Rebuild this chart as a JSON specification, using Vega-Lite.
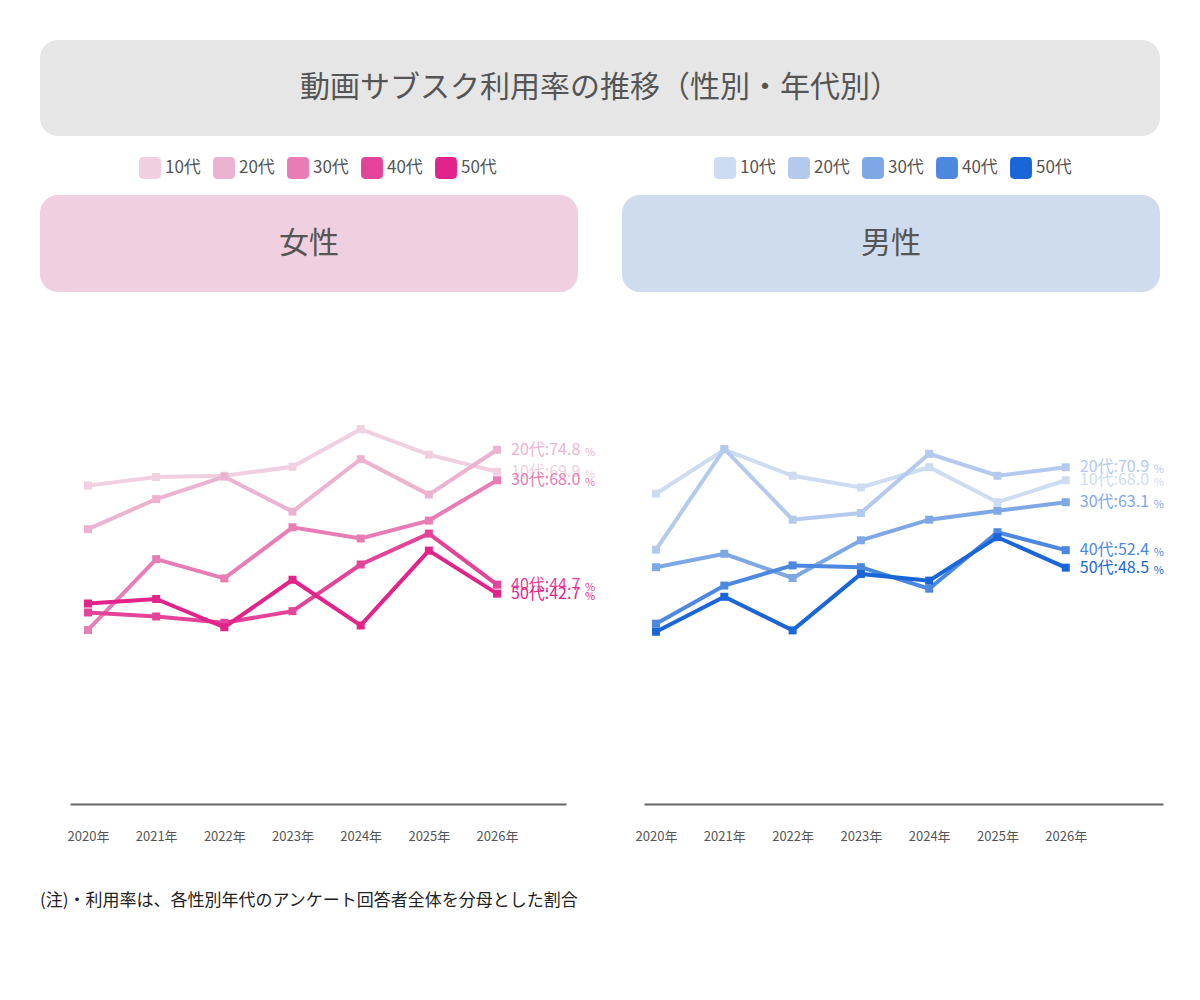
{
  "$schema": "https://vega.github.io/schema/vega-lite/v6.json",
  "padding": {"left": 40, "top": 40, "right": 0, "bottom": 20},
  "background": "white",
  "config": {
    "font": "Noto Sans CJK JP",
    "view": {"stroke": null},
    "concat": {"spacing": 0},
    "legend": {"layout": {"top": {"anchor": "middle"}}}
  },
  "datasets": {
    "f": [
      {"year": "2020年", "age": "10代", "value": 66.8}, {"year": "2021年", "age": "10代", "value": 68.7}, {"year": "2022年", "age": "10代", "value": 69.0}, {"year": "2023年", "age": "10代", "value": 71.0}, {"year": "2024年", "age": "10代", "value": 79.4}, {"year": "2025年", "age": "10代", "value": 73.7}, {"year": "2026年", "age": "10代", "value": 69.9},
      {"year": "2020年", "age": "20代", "value": 57.1}, {"year": "2021年", "age": "20代", "value": 63.8}, {"year": "2022年", "age": "20代", "value": 68.8}, {"year": "2023年", "age": "20代", "value": 61.0}, {"year": "2024年", "age": "20代", "value": 72.7}, {"year": "2025年", "age": "20代", "value": 64.8}, {"year": "2026年", "age": "20代", "value": 74.8},
      {"year": "2020年", "age": "30代", "value": 34.6}, {"year": "2021年", "age": "30代", "value": 50.4}, {"year": "2022年", "age": "30代", "value": 46.1}, {"year": "2023年", "age": "30代", "value": 57.5}, {"year": "2024年", "age": "30代", "value": 55.0}, {"year": "2025年", "age": "30代", "value": 59.0}, {"year": "2026年", "age": "30代", "value": 68.0},
      {"year": "2020年", "age": "40代", "value": 38.5}, {"year": "2021年", "age": "40代", "value": 37.6}, {"year": "2022年", "age": "40代", "value": 36.2}, {"year": "2023年", "age": "40代", "value": 38.8}, {"year": "2024年", "age": "40代", "value": 49.2}, {"year": "2025年", "age": "40代", "value": 56.1}, {"year": "2026年", "age": "40代", "value": 44.7},
      {"year": "2020年", "age": "50代", "value": 40.5}, {"year": "2021年", "age": "50代", "value": 41.5}, {"year": "2022年", "age": "50代", "value": 35.2}, {"year": "2023年", "age": "50代", "value": 45.8}, {"year": "2024年", "age": "50代", "value": 35.6}, {"year": "2025年", "age": "50代", "value": 52.3}, {"year": "2026年", "age": "50代", "value": 42.7}
    ],
    "m": [
      {"year": "2020年", "age": "10代", "value": 65.0}, {"year": "2021年", "age": "10代", "value": 74.8}, {"year": "2022年", "age": "10代", "value": 69.0}, {"year": "2023年", "age": "10代", "value": 66.4}, {"year": "2024年", "age": "10代", "value": 70.9}, {"year": "2025年", "age": "10代", "value": 63.1}, {"year": "2026年", "age": "10代", "value": 68.0},
      {"year": "2020年", "age": "20代", "value": 52.5}, {"year": "2021年", "age": "20代", "value": 75.0}, {"year": "2022年", "age": "20代", "value": 59.2}, {"year": "2023年", "age": "20代", "value": 60.7}, {"year": "2024年", "age": "20代", "value": 73.9}, {"year": "2025年", "age": "20代", "value": 69.0}, {"year": "2026年", "age": "20代", "value": 70.9},
      {"year": "2020年", "age": "30代", "value": 48.6}, {"year": "2021年", "age": "30代", "value": 51.6}, {"year": "2022年", "age": "30代", "value": 46.2}, {"year": "2023年", "age": "30代", "value": 54.6}, {"year": "2024年", "age": "30代", "value": 59.2}, {"year": "2025年", "age": "30代", "value": 61.2}, {"year": "2026年", "age": "30代", "value": 63.1},
      {"year": "2020年", "age": "40代", "value": 36.0}, {"year": "2021年", "age": "40代", "value": 44.5}, {"year": "2022年", "age": "40代", "value": 49.0}, {"year": "2023年", "age": "40代", "value": 48.6}, {"year": "2024年", "age": "40代", "value": 43.8}, {"year": "2025年", "age": "40代", "value": 56.4}, {"year": "2026年", "age": "40代", "value": 52.4},
      {"year": "2020年", "age": "50代", "value": 34.2}, {"year": "2021年", "age": "50代", "value": 42.0}, {"year": "2022年", "age": "50代", "value": 34.5}, {"year": "2023年", "age": "50代", "value": 47.1}, {"year": "2024年", "age": "50代", "value": 45.6}, {"year": "2025年", "age": "50代", "value": 55.3}, {"year": "2026年", "age": "50代", "value": 48.5}
    ],
    "title": [{"t": "動画サブスク利用率の推移（性別・年代別）"}],
    "hf": [{"t": "女性"}],
    "hm": [{"t": "男性"}]
  },
  "title": {
    "text": "(注)・利用率は、各性別年代のアンケート回答者全体を分母とした割合",
    "orient": "bottom", "anchor": "start", "fontSize": 17, "fontWeight": "normal", "color": "#222", "offset": 50
  },
  "vconcat": [
    {
      "width": 1120, "height": 96,
      "view": {"fill": "#e6e6e6", "cornerRadius": 18},
      "data": {"name": "title"},
      "mark": {"type": "text", "fontSize": 30, "color": "#555"},
      "encoding": {"text": {"field": "t"}}
    },
    {
      "resolve": {"scale": {"color": "independent", "yOffset": "independent", "x": "independent", "y": "independent"}, "legend": {"color": "independent"}},
      "hconcat": [
        {
          "vconcat": [
            {
              "width": 538, "height": 97,
              "view": {"fill": "#f0cfe0", "cornerRadius": 18},
              "data": {"name": "hf"},
              "mark": {"type": "text", "fontSize": 30, "color": "#555"},
              "encoding": {"text": {"field": "t"}}
            },
            {
              "width": 538, "height": 502,
              "data": {"name": "f"},
              "encoding": {
                "x": {"field": "year", "type": "ordinal", "title": null, "sort": null,
                  "scale": {"type": "point", "range": [30, 526], "padding": 0.638, "align": 0.207},
                  "axis": {"domainColor": "#666", "domainWidth": 2, "ticks": false, "grid": false, "labelAngle": 0, "labelPadding": 26, "labelFontSize": 13, "labelColor": "#555", "labelDx": 12, "offset": 10}},
                "y": {"field": "value", "type": "quantitative", "scale": {"domain": [-2, 110]}, "axis": null},
                "color": {"field": "age", "type": "nominal", "title": null,
                  "scale": {"domain": ["10代", "20代", "30代", "40代", "50代"], "range": ["#efcfe0", "#ecb3d0", "#e87cb4", "#e3449a", "#e2238a"]},
                  "legend": {"orient": "top", "direction": "horizontal", "labelFontSize": 17, "labelColor": "#555", "symbolSize": 480, "symbolStrokeWidth": 0, "symbolType": "M-1,-0.6Q-1,-1,-0.6,-1L0.6,-1Q1,-1,1,-0.6L1,0.6Q1,1,0.6,1L-0.6,1Q-1,1,-1,0.6Z", "columnPadding": 12, "offset": 16}}
              },
              "layer": [
                {"mark": {"type": "line", "strokeWidth": 4}},
                {"mark": {"type": "point", "shape": "square", "filled": true, "size": 64, "opacity": 1}},
                {
                  "transform": [{"filter": "datum.year == '2026年'"}, {"calculate": "datum.age + ':' + format(datum.value, '.1f')", "as": "lab"}],
                  "mark": {"type": "text", "align": "left", "dx": 14, "fontSize": 16},
                  "encoding": {
                    "text": {"field": "lab"},
                    "yOffset": {"field": "age", "type": "nominal", "scale": {"type": "ordinal", "domain": ["10代", "20代", "30代", "40代", "50代"], "range": [1, -7, 12, -5, 6]}}
                  }
                },
                {
                  "transform": [{"filter": "datum.year == '2026年'"}],
                  "mark": {"type": "text", "align": "left", "dx": 88, "dy": 3, "fontSize": 11, "text": "%"},
                  "encoding": {
                    "yOffset": {"field": "age", "type": "nominal", "scale": {"type": "ordinal", "domain": ["10代", "20代", "30代", "40代", "50代"], "range": [1, -7, 12, -5, 6]}}
                  }
                }
              ]
            }
          ]
        },
        {
          "vconcat": [
            {
              "width": 538, "height": 97,
              "view": {"fill": "#cedcee", "cornerRadius": 18},
              "data": {"name": "hm"},
              "mark": {"type": "text", "fontSize": 30, "color": "#555"},
              "encoding": {"text": {"field": "t"}}
            },
            {
              "width": 538, "height": 502,
              "data": {"name": "m"},
              "encoding": {
                "x": {"field": "year", "type": "ordinal", "title": null, "sort": null,
                  "scale": {"type": "point", "range": [22, 541], "padding": 0.8, "align": 0.11},
                  "axis": {"domainColor": "#666", "domainWidth": 2, "ticks": false, "grid": false, "labelAngle": 0, "labelPadding": 26, "labelFontSize": 13, "labelColor": "#555", "labelDx": 12, "offset": 10}},
                "y": {"field": "value", "type": "quantitative", "scale": {"domain": [-2, 110]}, "axis": null},
                "color": {"field": "age", "type": "nominal", "title": null,
                  "scale": {"domain": ["10代", "20代", "30代", "40代", "50代"], "range": ["#cddcf0", "#b3caee", "#7ea7e6", "#4d88e0", "#1a66d9"]},
                  "legend": {"orient": "top", "direction": "horizontal", "labelFontSize": 17, "labelColor": "#555", "symbolSize": 480, "symbolStrokeWidth": 0, "symbolType": "M-1,-0.6Q-1,-1,-0.6,-1L0.6,-1Q1,-1,1,-0.6L1,0.6Q1,1,0.6,1L-0.6,1Q-1,1,-1,0.6Z", "columnPadding": 12, "offset": 16}}
              },
              "layer": [
                {"mark": {"type": "line", "strokeWidth": 4}},
                {"mark": {"type": "point", "shape": "square", "filled": true, "size": 64, "opacity": 1}},
                {
                  "transform": [{"filter": "datum.year == '2026年'"}, {"calculate": "datum.age + ':' + format(datum.value, '.1f')", "as": "lab"}],
                  "mark": {"type": "text", "align": "left", "dx": 14, "fontSize": 16},
                  "encoding": {
                    "text": {"field": "lab"},
                    "yOffset": {"field": "age", "type": "nominal", "scale": {"type": "ordinal", "domain": ["10代", "20代", "30代", "40代", "50代"], "range": [0, -7, 4, -3, -2]}}
                  }
                },
                {
                  "transform": [{"filter": "datum.year == '2026年'"}],
                  "mark": {"type": "text", "align": "left", "dx": 88, "dy": 3, "fontSize": 11, "text": "%"},
                  "encoding": {
                    "yOffset": {"field": "age", "type": "nominal", "scale": {"type": "ordinal", "domain": ["10代", "20代", "30代", "40代", "50代"], "range": [0, -7, 4, -3, -2]}}
                  }
                }
              ]
            }
          ]
        }
      ],
      "spacing": 26
    }
  ],
  "spacing": 21
}
